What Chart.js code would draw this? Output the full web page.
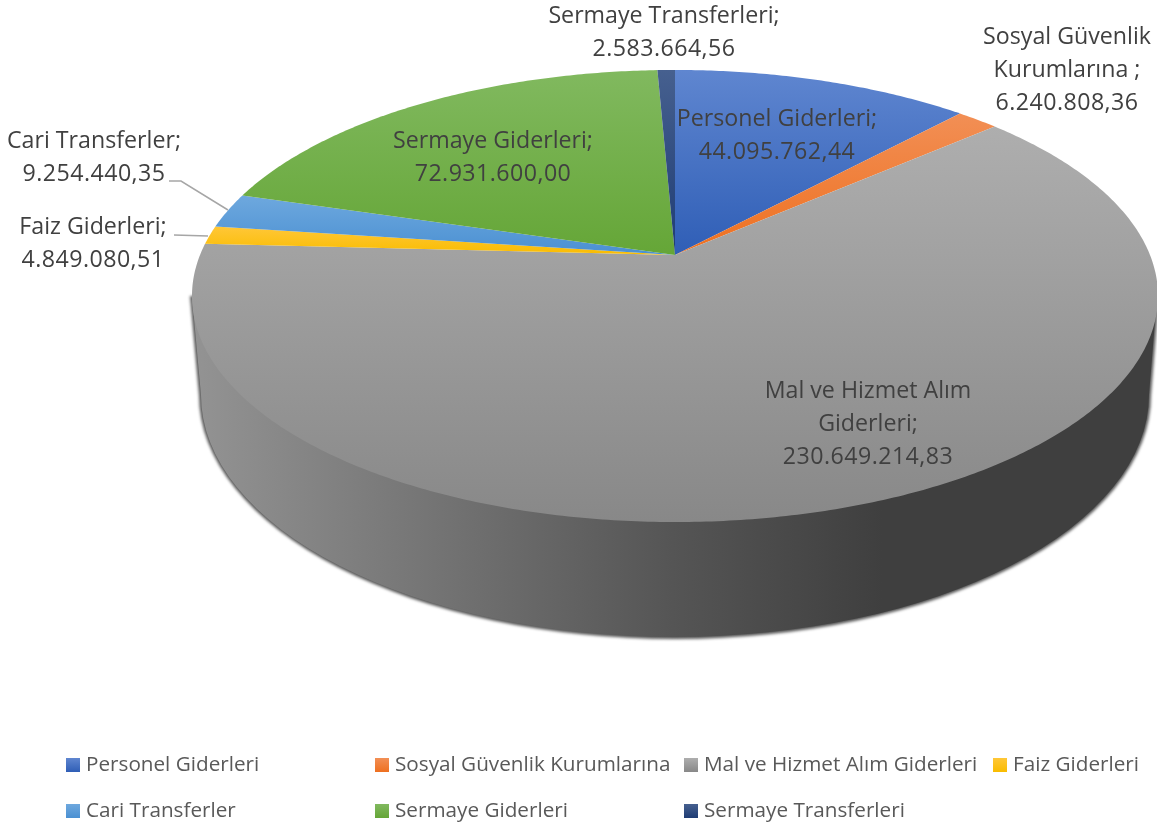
<!DOCTYPE html>
<html>
<head>
<meta charset="utf-8">
<style>
  html, body { margin: 0; padding: 0; background: #fff; }
  canvas { display: block; }
</style>
<script src="https://cdn.jsdelivr.net/npm/chart.js@4"></script>
</head>
<body>
<canvas id="pie" width="1157" height="827"></canvas>
<script>
const categories = ["Personel Giderleri", "Sosyal Güvenlik Kurumlarına", "Mal ve Hizmet Alım Giderleri", "Faiz Giderleri", "Cari Transferler", "Sermaye Giderleri", "Sermaye Transferleri"];
const values = [44095762.44, 6240808.36, 230649214.83, 4849080.51, 9254440.35, 72931600.00, 2583664.56];
const valueLabels = ["44.095.762,44", "6.240.808,36", "230.649.214,83", "4.849.080,51", "9.254.440,35", "72.931.600,00", "2.583.664,56"];
const nameLines = [["Personel Giderleri;"], ["Sosyal Güvenlik", "Kurumlarına ;"], ["Mal ve Hizmet Alım", "Giderleri;"], ["Faiz Giderleri;"], ["Cari Transferler;"], ["Sermaye Giderleri;"], ["Sermaye Transferleri;"]];

const topColors = ["#5f86d0", "#f28f55", "#aeaeae", "#ffc738", "#6ea8de", "#81b95f", "#46608f"];
const bottomColors = ["#2f5eb6", "#ee7020", "#888888", "#f9bc00", "#4a90d2", "#65a637", "#1e3c74"];

// label centre x and first line y, same order as categories
const labelX = [777, 1067, 868, 93, 94, 493, 664];
const labelY = [119, 37, 391, 227, 141, 141, 16];
const FONT = '"Open Sans", sans-serif';

// the flat disc seen in perspective: apex of the slices sits above the ellipse centre
const CX = 675, CY = 255, A = 218.6, B = 475, P = 0.1814;
function project(angle) {
  const u = Math.cos(angle), v = Math.sin(angle), w = 1 - P * v;
  return [CX + B * u / w, CY + A * v / w];
}

function wallPath(ctx, grow) {
  ctx.beginPath();
  ctx.moveTo(192 - grow, 296);
  ctx.ellipse(675, 395, 474 + grow, 242 + grow, 0, Math.PI, 0, true);
  ctx.lineTo(1157 + grow, 296);
  ctx.closePath();
}

function drawWall(ctx) {
  const grad = ctx.createLinearGradient(195, 0, 1150, 0);
  grad.addColorStop(0, "#939393");
  grad.addColorStop(0.5, "#555555");
  grad.addColorStop(0.72, "#3f3f3f");
  grad.addColorStop(1, "#3f3f3f");
  // soft dark fringe round the outer edge
  ctx.save();
  ctx.filter = "blur(1.6px)";
  ctx.fillStyle = "#555555";
  wallPath(ctx, 2);
  ctx.fill();
  ctx.restore();
  ctx.fillStyle = grad;
  wallPath(ctx, 0);
  ctx.fill();
}

function drawSlice(ctx, arc, i) {
  const pts = [];
  const steps = Math.max(4, Math.ceil((arc.endAngle - arc.startAngle) / 0.01));
  for (let s = 0; s <= steps; s++) {
    pts.push(project(arc.startAngle + (arc.endAngle - arc.startAngle) * s / steps));
  }
  const ys = pts.map(p => p[1]).concat(CY);
  const grad = ctx.createLinearGradient(0, Math.min(...ys), 0, Math.max(...ys));
  grad.addColorStop(0, topColors[i]);
  grad.addColorStop(1, bottomColors[i]);
  ctx.fillStyle = grad;
  ctx.beginPath();
  ctx.moveTo(CX, CY);
  pts.forEach(p => ctx.lineTo(p[0], p[1]));
  ctx.closePath();
  ctx.fill();
}

const perspectivePie = {
  id: "perspectivePie",
  beforeDatasetDraw(chart, args) {
    const ctx = chart.ctx;
    drawWall(ctx);
    args.meta.data.forEach((arc, i) => drawSlice(ctx, arc, i));
    return false;
  }
};

const dataLabels = {
  id: "dataLabels",
  afterDraw(chart) {
    const ctx = chart.ctx;
    ctx.save();
    // leader lines for the two small slices
    ctx.strokeStyle = "#a6a6a6";
    ctx.lineWidth = 1.5;
    ctx.beginPath();
    ctx.moveTo(169, 181); ctx.lineTo(181, 181); ctx.lineTo(228, 210);
    ctx.moveTo(174, 235); ctx.lineTo(208, 236);
    ctx.stroke();

    ctx.font = "23.2px " + FONT;
    ctx.fillStyle = "#404040";
    ctx.textAlign = "center";
    ctx.textBaseline = "middle";
    categories.forEach((c, i) => {
      const names = nameLines[i];
      names.forEach((line, n) => ctx.fillText(line, labelX[i], labelY[i] + n * 33));
      ctx.letterSpacing = "0.45px"; // digits run wider in the original
      ctx.fillText(valueLabels[i], labelX[i], labelY[i] + names.length * 33);
      ctx.letterSpacing = "0px";
    });
    ctx.restore();
  }
};

// legend sits on a fixed grid, the built in one only centres its rows
const legendGrid = {
  id: "legendGrid",
  afterDraw(chart) {
    const ctx = chart.ctx;
    const colX = [66, 375, 684, 993];
    const rowY = [765, 811];
    ctx.save();
    ctx.font = "20.7px " + FONT;
    ctx.textBaseline = "middle";
    ctx.textAlign = "left";
    chart.data.labels.forEach((label, i) => {
      const x = colX[i % 4], y = rowY[Math.floor(i / 4)];
      const grad = ctx.createLinearGradient(0, y - 7, 0, y + 7);
      grad.addColorStop(0, topColors[i]);
      grad.addColorStop(1, bottomColors[i]);
      ctx.fillStyle = grad;
      ctx.fillRect(x, y - 7, 14, 14);
      ctx.fillStyle = "#595959";
      ctx.fillText(label, x + 20, y);
    });
    ctx.restore();
  }
};

new Chart(document.getElementById("pie"), {
  type: "pie",
  data: {
    labels: categories,
    datasets: [{ data: values, backgroundColor: bottomColors, borderWidth: 0 }]
  },
  options: {
    responsive: false,
    animation: false,
    plugins: { legend: { display: false }, tooltip: { enabled: false } }
  },
  plugins: [perspectivePie, dataLabels, legendGrid]
});
</script>
</body>
</html>
